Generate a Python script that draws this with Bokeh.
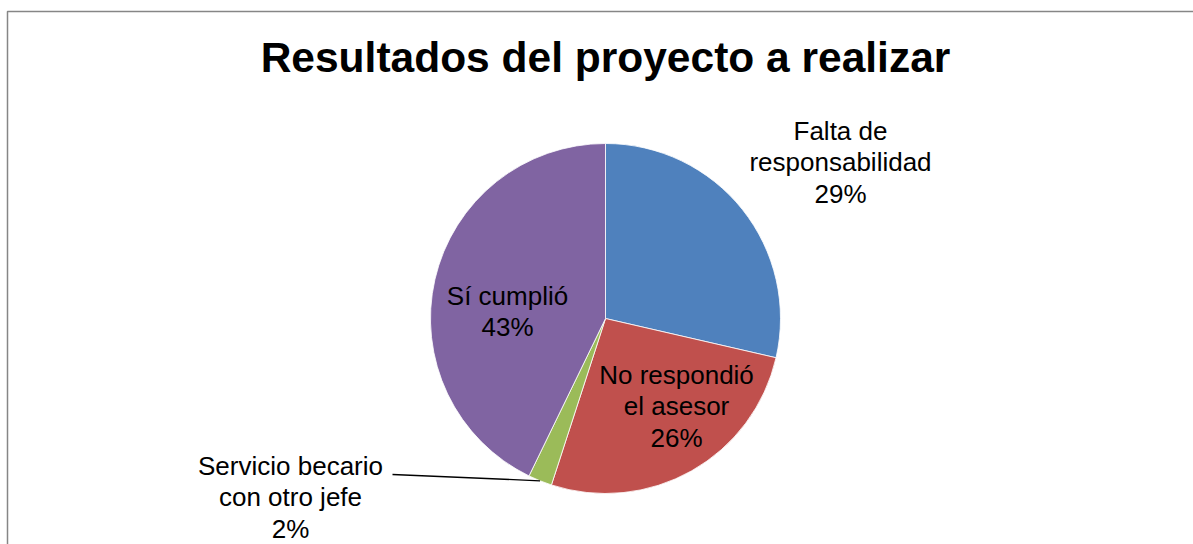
import math
from bokeh.plotting import figure
from bokeh.models import Range1d, ColumnDataSource
from bokeh.core.properties import value
from bokeh.embed import file_html
from bokeh.resources import INLINE

# ---- data ----
categories = ["Falta de\nresponsabilidad", "No respondió\nel asesor",
              "Servicio becario\ncon otro jefe", "Sí cumplió"]
shares = [28.6, 26.4, 2.2, 42.8]
colors = ["#4F81BD", "#C0504D", "#9BBB59", "#8064A2"]
title_text = "Resultados del proyecto a realizar"

# ---- layout (pixels, image coordinates with y downward) ----
W, H = 1193, 544
CX, CY, R = 605, 318, 175
label_pos = [(840, 162), (676, 406), (290, 497), (507, 311)]
leader_start = (392, 474)

def Y(y):
    return H - y

p = figure(width=W, height=H, output_backend="svg", toolbar_location=None,
           x_range=Range1d(0, W), y_range=Range1d(0, H),
           min_border=0, outline_line_color=None)
p.axis.visible = False
p.grid.visible = False
p.background_fill_color = "white"
p.border_fill_color = "white"

# chart border (left and top visible)
p.line(x=[7, 7, W + 10], y=[Y(H + 10), Y(11), Y(11)], line_color="#868686", line_width=1.5)

total = sum(shares)
starts, ends, mids = [], [], []
cum = 0.0
for s in shares:
    a0 = math.pi / 2 - 2 * math.pi * cum / total
    cum += s
    a1 = math.pi / 2 - 2 * math.pi * cum / total
    starts.append(a0)
    ends.append(a1)
    mids.append((a0 + a1) / 2)

src = ColumnDataSource(dict(x=[CX] * len(shares), y=[Y(CY)] * len(shares),
                            start=starts, end=ends, color=colors))
p.wedge(x="x", y="y", radius=R, start_angle="start", end_angle="end",
        direction="clock", fill_color="color", line_color="white",
        line_width=0.8, source=src)

# leader line for small slice
gi = 2
ex = CX + R * math.cos(mids[gi])
ey = Y(CY) + R * math.sin(mids[gi])
p.line(x=[leader_start[0], ex], y=[Y(leader_start[1]), ey], line_color="black", line_width=1.3)

labels = [f"{c}\n{round(s / total * 100)}%" for c, s in zip(categories, shares)]
p.text(x=[lp[0] for lp in label_pos], y=[Y(lp[1]) for lp in label_pos], text=labels,
       text_font=value("Liberation Sans"), text_font_size="26px",
       text_align="center", text_baseline="middle", text_color="black",
       text_line_height=1.065)

p.text(x=[CX], y=[Y(57)], text=[title_text], text_font=value("Liberation Sans"),
       text_font_style="bold", text_font_size="42.5px", text_align="center",
       text_baseline="middle", text_color="black")

open("out.html", "w").write(file_html(p, INLINE))
